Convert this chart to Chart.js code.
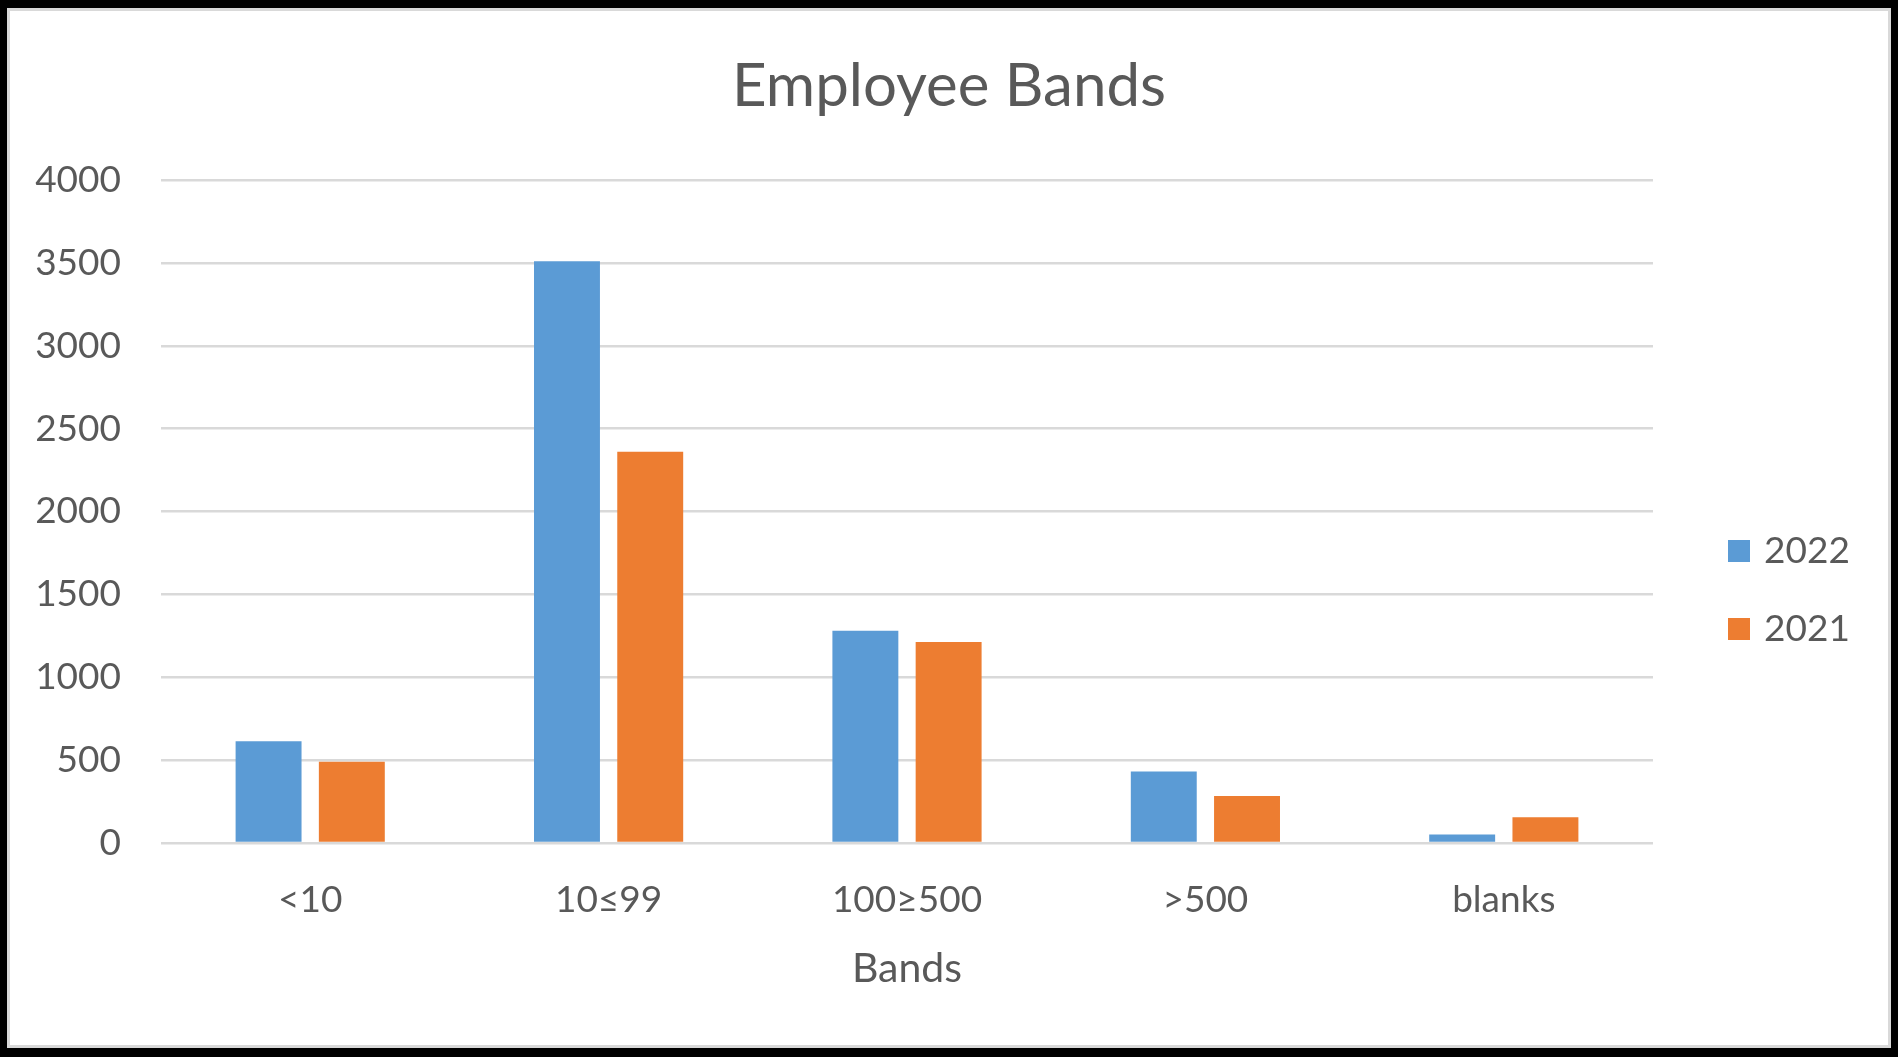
<!DOCTYPE html>
<html>
<head>
<meta charset="utf-8">
<title>Employee Bands</title>
<script src="https://cdn.jsdelivr.net/npm/chart.js@4.4.1/dist/chart.umd.min.js"></script>
<style>
    html, body { margin: 0; padding: 0; background: #000; }
    #frame {
        position: absolute;
        left: 7px; top: 8px;
        width: 1878px; height: 1034px;
        border: 3px solid #d9d9d9;
        background: #fff;
    }
    #frame canvas { display: block; }
</style>
</head>
<body>
<div id="frame"><canvas id="myChart" width="1878" height="1034"></canvas></div>
<script>
const bands = ['<10', '10≤99', '100≥500', '>500', 'blanks'];
const series2022 = [614, 3510, 1280, 432, 52];
const series2021 = [490, 2360, 1212, 283, 156];
const yTicks = [0, 500, 1000, 1500, 2000, 2500, 3000, 3500, 4000];

const FONT = 'Lato, "Open Sans", sans-serif';
const TEXT = '#595959';

// legend on the right, drawn by hand so the spacing can be set freely
const sideLegend = {
    id: 'sideLegend',
    afterDraw(chart) {
        const ctx = chart.ctx;
        const area = chart.chartArea;
        ctx.save();
        ctx.font = '37px ' + FONT;
        ctx.textBaseline = 'middle';
        ctx.textAlign = 'left';
        chart.data.datasets.forEach((ds, i) => {
            const x = area.right + 75;
            const y = 540 + i * 78;
            ctx.fillStyle = ds.backgroundColor;
            ctx.fillRect(x, y - 11, 22, 22);
            ctx.fillStyle = TEXT;
            ctx.fillText(ds.label, x + 36, y);
        });
        ctx.restore();
    }
};

function createChart() {
    const ctx = document.getElementById('myChart').getContext('2d');
    new Chart(ctx, {
        type: 'bar',
        data: {
            labels: bands,
            datasets: [
                { label: '2022', data: series2022, backgroundColor: '#5b9bd5' },
                { label: '2021', data: series2021, backgroundColor: '#ed7d31' }
            ]
        },
        options: {
            responsive: false,
            animation: false,
            categoryPercentage: 0.558,
            barPercentage: 0.792,
            layout: { padding: { left: 0, right: 0, top: 0, bottom: 52 } },
            plugins: {
                legend: { display: false },
                tooltip: { enabled: false },
                title: {
                    display: true,
                    text: 'Employee Bands',
                    color: TEXT,
                    font: { family: FONT, size: 60, weight: 'normal' },
                    padding: { top: 40, bottom: 57 }
                }
            },
            scales: {
                x: {
                    afterFit: (scale) => { scale.height = 150; },
                    grid: { display: false },
                    border: { display: false },
                    ticks: {
                        color: TEXT,
                        font: { family: FONT, size: 37 },
                        padding: 27,
                        maxRotation: 0
                    },
                    title: {
                        display: true,
                        text: 'Bands',
                        color: TEXT,
                        font: { family: FONT, size: 41 },
                        padding: { top: 23, bottom: 0 }
                    }
                },
                y: {
                    min: yTicks[0],
                    max: yTicks[yTicks.length - 1],
                    afterFit: (scale) => { scale.width = 151; },
                    afterBuildTicks: (scale) => { scale.ticks = yTicks.map(v => ({ value: v })); },
                    grid: { color: '#d9d9d9', lineWidth: 2.5, drawTicks: false },
                    border: { display: false },
                    ticks: {
                        color: TEXT,
                        font: { family: FONT, size: 37 },
                        padding: 40,
                        callback: (v) => String(v)
                    }
                },
                // empty right-hand axis that keeps room for the legend
                legendSpace: {
                    type: 'linear',
                    position: 'right',
                    afterFit: (scale) => { scale.width = 235; },
                    grid: { display: false },
                    border: { display: false },
                    ticks: { display: false }
                }
            }
        },
        plugins: [sideLegend]
    });
}

createChart();
</script>
</body>
</html>
